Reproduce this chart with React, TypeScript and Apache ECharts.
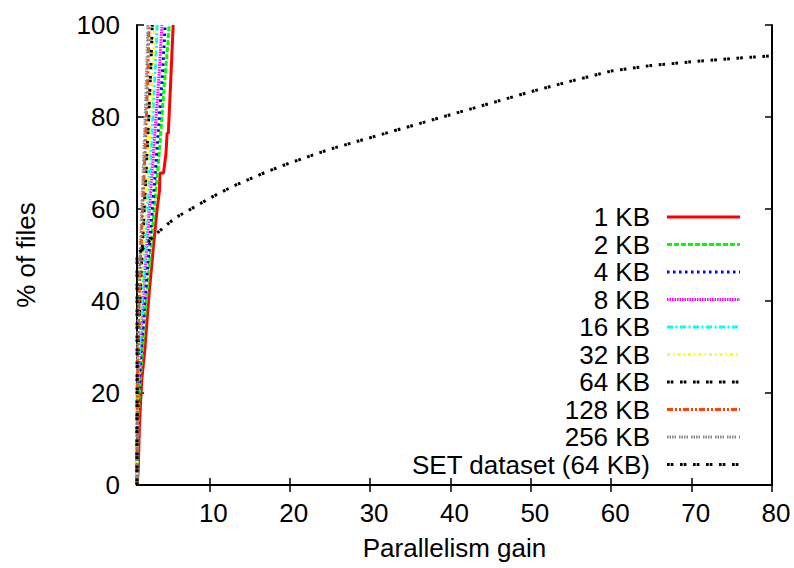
import React, { useEffect, useRef } from "react";
import * as echarts from "echarts";

// CDF of parallelism gain per chunk size: [gain, % of files]
const kb1: number[][] = [[1,0],[1.15,3],[1.3,13],[1.45,18],[1.6,23],[2.0,30],[2.3,37],[2.55,42.5],[2.85,48],[3.05,52],[3.25,55.5],[3.5,60],[3.8,64],[3.85,67.8],[4.3,67.8],[4.6,72],[4.75,76.5],[4.9,76.5],[5.0,80.5],[5.2,88],[5.35,94],[5.5,100]];
const kb2: number[][] = [[1,0],[1.05,6],[1.15,14],[1.3,20],[1.5,25],[1.75,31],[2.05,38],[2.35,44],[2.6,49],[2.85,54],[3.1,59],[3.3,63],[3.6,69],[3.85,74],[4.1,80],[4.35,86],[4.6,91],[4.8,95],[5.0,100]];
const kb4: number[][] = [[1,0],[1.05,8],[1.1,15],[1.25,21],[1.45,27],[1.7,33],[1.95,39],[2.2,45],[2.45,50],[2.7,55],[2.9,60],[3.15,65],[3.4,71],[3.65,77],[3.9,83],[4.15,89],[4.35,95],[4.5,100]];
const kb8: number[][] = [[1,0],[1.05,10],[1.1,17],[1.2,23],[1.4,30],[1.6,36],[1.8,42],[2.05,48],[2.25,53],[2.45,58],[2.7,64],[2.95,70],[3.2,76],[3.45,82],[3.7,88],[3.9,94],[4.1,100]];
const kb16: number[][] = [[1,0],[1.03,11],[1.08,18],[1.18,25],[1.35,31],[1.55,38],[1.75,44],[1.95,50],[2.15,56],[2.35,62],[2.6,69],[2.85,76],[3.05,83],[3.25,90],[3.4,95],[3.5,100]];
const kb32: number[][] = [[1,0],[1.03,12],[1.07,20],[1.15,27],[1.3,34],[1.48,41],[1.65,47],[1.85,53],[2.05,59],[2.3,66],[2.5,73],[2.7,80],[2.9,87],[3.05,93],[3.2,100]];
const kb64: number[][] = [[1,0],[1.02,13],[1.06,21],[1.12,28],[1.25,35],[1.4,42],[1.58,49],[1.75,55],[1.95,62],[2.15,69],[2.35,76],[2.55,84],[2.72,91],[2.9,100]];
const kb128: number[][] = [[1,0],[1.02,15],[1.05,23],[1.1,30],[1.2,37],[1.33,44],[1.48,51],[1.63,57],[1.8,64],[1.97,71],[2.13,78],[2.28,86],[2.4,93],[2.5,100]];
const kb256: number[][] = [[1,0],[1.02,16],[1.04,24],[1.08,31],[1.16,38],[1.27,45],[1.4,51],[1.55,58],[1.7,65],[1.85,72],[2.0,79],[2.13,86],[2.25,93],[2.35,100]];
const setData: number[][] = [[1,0],[1,50],[2,52],[3,54],[4,55.5],[5,57],[6,58.3],[8,60.3],[10,62.3],[13,65],[17,68],[20,70],[25,73],[30,75.5],[35,78],[40,80.5],[45,83],[50,85.5],[55,87.8],[60,90],[65,91.2],[70,92],[75,92.7],[80,93.3]];

const seriesNames = ["1 KB", "2 KB", "4 KB", "8 KB", "16 KB", "32 KB", "64 KB", "128 KB", "256 KB", "SET dataset (64 KB)"];
const seriesData = [kb1, kb2, kb4, kb8, kb16, kb32, kb64, kb128, kb256, setData];

const xTicks = [10, 20, 30, 40, 50, 60, 70, 80];

const FONT = "'Liberation Sans', Arial, Helvetica, sans-serif";
const FONT_SIZE = 26;

const styles: { color: string; width: number; dash: number[] | "solid" }[] = [
  { color: "#ff0000", width: 3, dash: "solid" },
  { color: "#00ff00", width: 3, dash: [5, 2] },
  { color: "#0000ff", width: 3, dash: [2.5, 3.5] },
  { color: "#ff00ff", width: 3, dash: [1.5, 1] },
  { color: "#00ffff", width: 3, dash: [6, 2.5, 2, 2.5] },
  { color: "#ffff00", width: 3, dash: [3, 3, 1.5, 3] },
  { color: "#000000", width: 3, dash: [2.7, 1, 2.7, 6.6] },
  { color: "#ff4500", width: 3, dash: [6, 2, 2, 2, 2, 2] },
  { color: "#888888", width: 3, dash: [1.5, 1, 1.5, 1, 1.5, 1, 1.5, 3] },
  { color: "#000000", width: 3, dash: [2.7, 1, 2.7, 6.6] },
];

const GRID = { left: 137, right: 22, top: 25, bottom: 83 };

export default function App() {
  const ref = useRef<HTMLDivElement>(null);

  useEffect(() => {
    if (!ref.current) return;
    const chart = echarts.init(ref.current, null, { renderer: "svg" });

    const axisLine = { show: true, lineStyle: { color: "#000", width: 2 } };
    const tickStyle = { color: "#000", width: 1.5 };

    const legendTextRight = 650;
    const legendLineX1 = 667;
    const legendLineX2 = 740;
    const legendTop = 217;
    const legendStep = 27.5;

    const legendItems: any[] = [];
    seriesNames.forEach((name, i) => {
      const y = legendTop + i * legendStep;
      const s = styles[i];
      legendItems.push({
        type: "text",
        x: legendTextRight,
        y,
        style: {
          text: name,
          fill: "#000",
          font: `${FONT_SIZE}px ${FONT}`,
          align: "right",
          verticalAlign: "middle",
        },
      });
      legendItems.push({
        type: "line",
        shape: { x1: legendLineX1, y1: y, x2: legendLineX2, y2: y },
        style: {
          stroke: s.color,
          lineWidth: s.width,
          lineDash: s.dash === "solid" ? null : s.dash,
        },
      });
    });

    chart.setOption({
      animation: false,
      backgroundColor: "#fff",
      grid: { ...GRID },
      xAxis: [
        {
          type: "value",
          min: 1,
          max: 80,
          position: "bottom",
          axisLine,
          axisTick: { show: true, inside: true, length: 7, customValues: xTicks, lineStyle: tickStyle },
          axisLabel: {
            customValues: xTicks,
            fontSize: FONT_SIZE,
            fontFamily: FONT,
            color: "#000",
            margin: 15,
            padding: [0, 0, 0, 8],
          },
          splitLine: { show: false },
          name: "Parallelism gain",
          nameLocation: "middle",
          nameGap: 50,
          nameTextStyle: { fontSize: FONT_SIZE, fontFamily: FONT, color: "#000" },
        },
        {
          type: "value",
          min: 1,
          max: 80,
          position: "top",
          axisLine,
          axisTick: { show: true, inside: true, length: 7, customValues: xTicks, lineStyle: tickStyle },
          axisLabel: { show: false },
          splitLine: { show: false },
        },
      ],
      yAxis: [
        {
          type: "value",
          min: 0,
          max: 100,
          interval: 20,
          position: "left",
          axisLine,
          axisTick: { show: true, inside: true, length: 7, lineStyle: tickStyle },
          axisLabel: { fontSize: FONT_SIZE, fontFamily: FONT, color: "#000", margin: 17 },
          splitLine: { show: false },
          name: "% of files",
          nameLocation: "middle",
          nameRotate: 90,
          nameGap: 98,
          nameTextStyle: { fontSize: FONT_SIZE, fontFamily: FONT, color: "#000" },
        },
        {
          type: "value",
          min: 0,
          max: 100,
          interval: 20,
          position: "right",
          axisLine,
          axisTick: { show: true, inside: true, length: 7, lineStyle: tickStyle },
          axisLabel: { show: false },
          splitLine: { show: false },
        },
      ],
      series: seriesData.map((d, i) => ({
        name: seriesNames[i],
        type: "line",
        xAxisIndex: 0,
        yAxisIndex: 0,
        data: d,
        symbol: "none",
        showSymbol: false,
        clip: true,
        lineStyle: {
          color: styles[i].color,
          width: styles[i].width,
          type: styles[i].dash,
          cap: "butt",
        },
        z: 2 + i,
      })),
      graphic: legendItems,
    });

    return () => chart.dispose();
  }, []);

  return (
    <div
      ref={ref}
      style={{ position: "fixed", left: 0, top: 0, width: 794, height: 568, background: "#fff" }}
    />
  );
}
